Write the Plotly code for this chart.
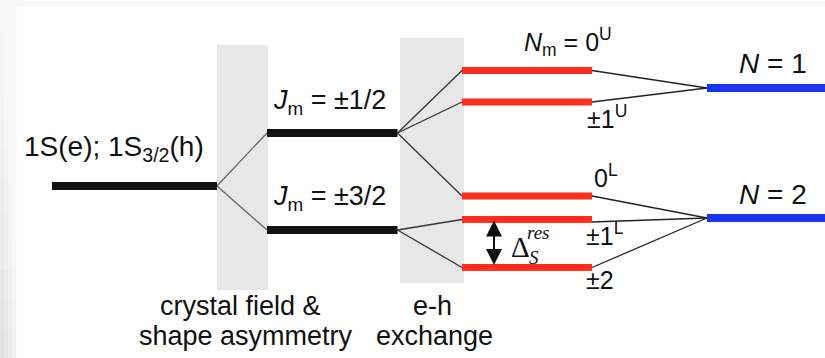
import plotly.graph_objects as go

# ---- data (energy positions, in diagram units = pixels from top) ----
base_level = [186]                          # 1S(e); 1S3/2(h)
j_levels = [133, 230]                       # Jm = ±1/2, Jm = ±3/2
nm_levels = [70.5, 102, 196, 219.5, 267.5]  # 0U, ±1U, 0L, ±1L, ±2
n_levels = [88, 218]                        # N = 1, N = 2

base_labels = ["1S(e); 1S<sub>3/2</sub>(h)"]
j_labels = ["<i>J</i><sub>m</sub> = ±1/2", "<i>J</i><sub>m</sub> = ±3/2"]
nm_labels = ["<i>N</i><sub>m</sub> = 0<sup>U</sup>", "±1<sup>U</sup>", "0<sup>L</sup>", "±1<sup>L</sup>", "±2"]
n_labels = ["<i>N</i> = 1", "<i>N</i> = 2"]

# parent -> child links between adjacent columns
links_base_j = [(0, 0), (0, 1)]
links_j_nm = [(0, 0), (0, 1), (0, 2), (1, 3), (1, 4)]
links_nm_n = [(0, 0), (1, 0), (2, 1), (3, 1), (4, 1)]

# ---- layout geometry ----
col_x = [(52, 217), (267, 397.5), (462, 592), (707, 830)]
band_x = [(217, 268), (400, 464)]
band_y = [(45, 290), (38, 283)]

W, H = 825, 358
FONT = "Liberation Sans, Arial, Helvetica, sans-serif"
SERIF = "Liberation Serif, Times New Roman, serif"

fig = go.Figure()

# background
shapes = []
shapes.append(dict(type="rect", xref="x", yref="y", x0=0, x1=W, y0=0, y1=H,
                   fillcolor="#f8f8f8", line_width=0, layer="below"))
# left strip, slightly darker towards the bottom-left
nseg = 12
for k in range(nseg):
    g = 248 - int(22 * k / (nseg - 1))
    for i in range(4):
        gi = min(248, g + i * 5)
        shapes.append(dict(type="rect", xref="x", yref="y", x0=i * 4, x1=i * 4 + 4,
                           y0=k * H / nseg, y1=(k + 1) * H / nseg,
                           fillcolor="rgb(%d,%d,%d)" % (gi, gi, gi), line_width=0, layer="below"))
shapes.append(dict(type="rect", xref="x", yref="y", x0=17, x1=W, y0=7, y1=H,
                   fillcolor="white", line_width=0, layer="below"))
for (bx0, bx1), (by0, by1) in zip(band_x, band_y):
    shapes.append(dict(type="rect", xref="x", yref="y", x0=bx0, x1=bx1, y0=by0, y1=by1,
                       fillcolor="#e7e7e7", line_width=0, layer="below"))

columns = [base_level, j_levels, nm_levels, n_levels]
colors = ["#111111", "#111111", "#ff2e1f", "#1836f2"]
widths = [8, 8, 7, 8]
link_sets = [links_base_j, links_j_nm, links_nm_n]
link_colors = ["#666666", "#333333", "#222222"]

# connector lines
for ci, links in enumerate(link_sets):
    xs, ys = [], []
    for p, c in links:
        yp = columns[ci][p]
        yc = columns[ci + 1][c]
        if ci == 2 and p == 3:
            yp = yp + 2.5
        xs += [col_x[ci][1], col_x[ci + 1][0], None]
        ys += [yp, yc, None]
    fig.add_trace(go.Scatter(x=xs, y=ys, mode="lines",
                             line=dict(color=link_colors[ci], width=1.3),
                             hoverinfo="skip", showlegend=False))

# level bars
for ci, col in enumerate(columns):
    xs, ys = [], []
    for y in col:
        xs += [col_x[ci][0], col_x[ci][1], None]
        ys += [y, y, None]
    fig.add_trace(go.Scatter(x=xs, y=ys, mode="lines",
                             line=dict(color=colors[ci], width=widths[ci]),
                             hoverinfo="skip", showlegend=False))

# labels
ann = []
def label(text, x, y, size, xanchor="center", family=FONT):
    ann.append(dict(text=text, x=x, y=y, xref="x", yref="y", showarrow=False,
                    xanchor=xanchor, yanchor="middle",
                    font=dict(family=family, size=size, color="#111111")))

label(base_labels[0], 22, 148, 28, "left")
label(j_labels[0], 271, 102, 27, "left")
label(j_labels[1], 271, 198, 27, "left")
label(nm_labels[0], 522, 42, 25, "left")
label(nm_labels[1], 585, 117, 25, "left")
label(nm_labels[2], 592, 176, 25, "left")
label(nm_labels[3], 584, 234, 25, "left")
label(nm_labels[4], 584, 280, 25, "left")
label(n_labels[0], 737, 63, 28, "left")
label(n_labels[1], 737, 194, 28, "left")

label("crystal field &", 240, 306, 27)
label("shape asymmetry", 246, 336, 27)
label("e-h", 432, 306, 27)
label("exchange", 434, 336, 27)

# Delta_S^res
label("Δ", 509, 247, 29, "left", SERIF)
label("<i>res</i>", 525, 232, 19, "left", SERIF)
label("<i>S</i>", 527, 257, 19, "left", SERIF)

# double arrow
ann.append(dict(x=494, y=nm_levels[3] + 1, ax=494, ay=nm_levels[4] - 1,
                xref="x", yref="y", axref="x", ayref="y", text="", showarrow=True,
                arrowhead=2, startarrowhead=2, arrowside="end+start",
                arrowsize=1.6, startarrowsize=1.6, arrowwidth=2, arrowcolor="#111111",
                standoff=0, startstandoff=0))

fig.update_layout(
    width=W, height=H,
    margin=dict(l=0, r=0, t=0, b=0),
    paper_bgcolor="white", plot_bgcolor="white",
    xaxis=dict(range=[0, W], visible=False, fixedrange=True),
    yaxis=dict(range=[H, 0], visible=False, fixedrange=True),
    shapes=shapes, annotations=ann, showlegend=False,
)

fig.write_html("out.html", config={"displayModeBar": False},
               post_script="document.body.style.margin='0';document.body.style.overflow='hidden';")
